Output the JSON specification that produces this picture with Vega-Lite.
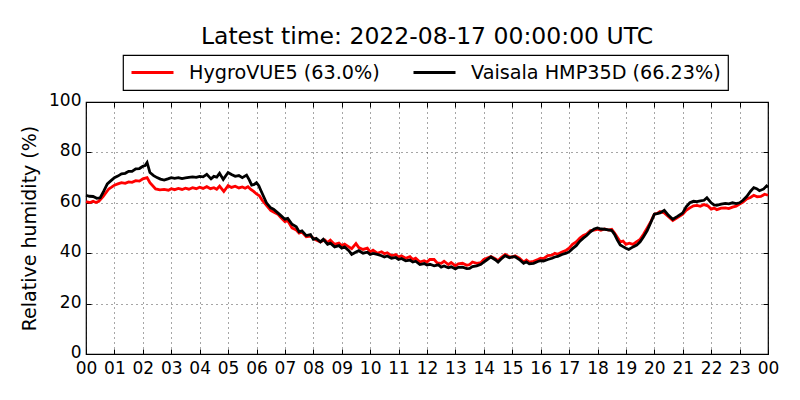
{
  "$schema": "https://vega.github.io/schema/vega-lite/v6.json",
  "width": 682,
  "height": 252,
  "autosize": {"type": "none"},
  "padding": {"left": 86, "top": 102, "right": 32, "bottom": 46},
  "title": {"text": "Latest time: 2022-08-17 00:00:00 UTC", "fontSize": 23.5, "font": "DejaVu Sans", "fontWeight": "normal", "color": "black", "frame": "group", "anchor": "middle", "offset": 6},
  "datasets": {
    "hygro": [
      {"hour": 0, "rh": 60.5}, {"hour": 0.15, "rh": 60.1}, {"hour": 0.25, "rh": 60.6}, {"hour": 0.35, "rh": 60.1}, {"hour": 0.45, "rh": 60.6}, {"hour": 0.6, "rh": 62.5},
      {"hour": 0.8, "rh": 65.5}, {"hour": 0.9, "rh": 66.2}, {"hour": 1, "rh": 67}, {"hour": 1.12, "rh": 67.5}, {"hour": 1.25, "rh": 68}, {"hour": 1.38, "rh": 67.7}, {"hour": 1.5, "rh": 68.3},
      {"hour": 1.62, "rh": 68.1}, {"hour": 1.75, "rh": 68.8}, {"hour": 1.88, "rh": 68.6}, {"hour": 2, "rh": 69.5}, {"hour": 2.15, "rh": 70}, {"hour": 2.25, "rh": 68},
      {"hour": 2.45, "rh": 65.5}, {"hour": 2.6, "rh": 65.1}, {"hour": 2.75, "rh": 65.3}, {"hour": 2.9, "rh": 65}, {"hour": 3, "rh": 65.6}, {"hour": 3.12, "rh": 65.2}, {"hour": 3.25, "rh": 65.7},
      {"hour": 3.38, "rh": 65.3}, {"hour": 3.5, "rh": 65.8}, {"hour": 3.62, "rh": 65.4}, {"hour": 3.75, "rh": 66}, {"hour": 3.88, "rh": 65.6}, {"hour": 4, "rh": 66.2}, {"hour": 4.12, "rh": 65.7}, {"hour": 4.25, "rh": 66.4},
      {"hour": 4.38, "rh": 65.6}, {"hour": 4.5, "rh": 66}, {"hour": 4.6, "rh": 65.4}, {"hour": 4.7, "rh": 66.6}, {"hour": 4.85, "rh": 64.5}, {"hour": 5, "rh": 66.8}, {"hour": 5.12, "rh": 66.1},
      {"hour": 5.25, "rh": 66.6}, {"hour": 5.38, "rh": 65.9}, {"hour": 5.5, "rh": 66.3}, {"hour": 5.6, "rh": 65.8}, {"hour": 5.7, "rh": 66.4}, {"hour": 5.8, "rh": 65.3}, {"hour": 5.9, "rh": 64.5},
      {"hour": 6, "rh": 63.5}, {"hour": 6.1, "rh": 62.8}, {"hour": 6.2, "rh": 61}, {"hour": 6.35, "rh": 59}, {"hour": 6.5, "rh": 57}, {"hour": 6.6, "rh": 56.3},
      {"hour": 6.75, "rh": 55.5}, {"hour": 6.85, "rh": 54.2}, {"hour": 7, "rh": 52.5}, {"hour": 7.1, "rh": 52.9}, {"hour": 7.25, "rh": 50}, {"hour": 7.4, "rh": 49.2}, {"hour": 7.5, "rh": 48}, {"hour": 7.6, "rh": 48.4},
      {"hour": 7.75, "rh": 46.5}, {"hour": 7.9, "rh": 46.8}, {"hour": 8, "rh": 46}, {"hour": 8.1, "rh": 45.2}, {"hour": 8.25, "rh": 44.5}, {"hour": 8.4, "rh": 45.3}, {"hour": 8.5, "rh": 44.2}, {"hour": 8.6, "rh": 45.2},
      {"hour": 8.75, "rh": 43.5}, {"hour": 8.9, "rh": 44}, {"hour": 9, "rh": 43}, {"hour": 9.1, "rh": 43.6}, {"hour": 9.25, "rh": 42.5}, {"hour": 9.35, "rh": 41.8}, {"hour": 9.5, "rh": 43.8}, {"hour": 9.6, "rh": 42.2},
      {"hour": 9.75, "rh": 41.5}, {"hour": 9.9, "rh": 42}, {"hour": 10, "rh": 40.5}, {"hour": 10.1, "rh": 41.2}, {"hour": 10.25, "rh": 40}, {"hour": 10.4, "rh": 40.6}, {"hour": 10.5, "rh": 39.8}, {"hour": 10.6, "rh": 40.2},
      {"hour": 10.75, "rh": 39}, {"hour": 10.9, "rh": 39.5}, {"hour": 11, "rh": 38.5}, {"hour": 11.1, "rh": 39}, {"hour": 11.25, "rh": 38}, {"hour": 11.4, "rh": 38.6}, {"hour": 11.5, "rh": 37.5}, {"hour": 11.6, "rh": 38},
      {"hour": 11.75, "rh": 36.5}, {"hour": 11.9, "rh": 37}, {"hour": 12, "rh": 36.5}, {"hour": 12.1, "rh": 37.5}, {"hour": 12.25, "rh": 37.5}, {"hour": 12.35, "rh": 36.2}, {"hour": 12.5, "rh": 36}, {"hour": 12.6, "rh": 36.8},
      {"hour": 12.75, "rh": 35.5}, {"hour": 12.85, "rh": 36.3}, {"hour": 13, "rh": 35}, {"hour": 13.1, "rh": 35.8}, {"hour": 13.25, "rh": 36}, {"hour": 13.4, "rh": 35.2}, {"hour": 13.5, "rh": 35.5}, {"hour": 13.6, "rh": 36.5},
      {"hour": 13.75, "rh": 36}, {"hour": 13.9, "rh": 36.3}, {"hour": 14, "rh": 37.5}, {"hour": 14.1, "rh": 38}, {"hour": 14.25, "rh": 38.7}, {"hour": 14.4, "rh": 37.8}, {"hour": 14.5, "rh": 37}, {"hour": 14.6, "rh": 38.2},
      {"hour": 14.75, "rh": 39.5}, {"hour": 14.9, "rh": 38.6}, {"hour": 15, "rh": 38.5}, {"hour": 15.1, "rh": 39}, {"hour": 15.25, "rh": 38}, {"hour": 15.4, "rh": 36.5}, {"hour": 15.5, "rh": 37.3}, {"hour": 15.6, "rh": 36.5},
      {"hour": 15.75, "rh": 36.8}, {"hour": 15.9, "rh": 37.5}, {"hour": 16, "rh": 38}, {"hour": 16.1, "rh": 37.8}, {"hour": 16.25, "rh": 39}, {"hour": 16.4, "rh": 39.2}, {"hour": 16.5, "rh": 40}, {"hour": 16.6, "rh": 39.6},
      {"hour": 16.75, "rh": 40.5}, {"hour": 16.9, "rh": 41.2}, {"hour": 17, "rh": 42}, {"hour": 17.12, "rh": 43.5}, {"hour": 17.25, "rh": 44.5}, {"hour": 17.38, "rh": 46}, {"hour": 17.5, "rh": 47},
      {"hour": 17.62, "rh": 47.6}, {"hour": 17.75, "rh": 49}, {"hour": 17.88, "rh": 49.2}, {"hour": 18, "rh": 49.5}, {"hour": 18.12, "rh": 49.1}, {"hour": 18.25, "rh": 49.6}, {"hour": 18.38, "rh": 49.2}, {"hour": 18.5, "rh": 49.5},
      {"hour": 18.6, "rh": 48}, {"hour": 18.8, "rh": 44.5}, {"hour": 18.9, "rh": 44.8}, {"hour": 19, "rh": 43.5}, {"hour": 19.12, "rh": 44}, {"hour": 19.25, "rh": 43.5}, {"hour": 19.38, "rh": 44.6},
      {"hour": 19.5, "rh": 45.5}, {"hour": 19.62, "rh": 47.5}, {"hour": 19.75, "rh": 50}, {"hour": 19.88, "rh": 52.6}, {"hour": 20, "rh": 55.5}, {"hour": 20.1, "rh": 55.8}, {"hour": 20.2, "rh": 56.5},
      {"hour": 20.35, "rh": 56}, {"hour": 20.5, "rh": 54.5}, {"hour": 20.65, "rh": 53}, {"hour": 20.8, "rh": 54},
      {"hour": 21, "rh": 55.5}, {"hour": 21.12, "rh": 57}, {"hour": 21.25, "rh": 58}, {"hour": 21.38, "rh": 58.8}, {"hour": 21.5, "rh": 59}, {"hour": 21.62, "rh": 58.6}, {"hour": 21.75, "rh": 59.3},
      {"hour": 21.88, "rh": 58.8}, {"hour": 22, "rh": 57.5}, {"hour": 22.1, "rh": 57.9}, {"hour": 22.2, "rh": 57.3}, {"hour": 22.35, "rh": 57.9}, {"hour": 22.5, "rh": 58}, {"hour": 22.62, "rh": 57.7}, {"hour": 22.75, "rh": 58.3},
      {"hour": 22.88, "rh": 58.7}, {"hour": 23, "rh": 59.5}, {"hour": 23.12, "rh": 60.3}, {"hour": 23.25, "rh": 61.5}, {"hour": 23.38, "rh": 62.1}, {"hour": 23.5, "rh": 63}, {"hour": 23.62, "rh": 62.4}, {"hour": 23.75, "rh": 62.5},
      {"hour": 23.88, "rh": 63.4}, {"hour": 24, "rh": 63}
    ],
    "vaisala": [
      {"hour": 0, "rh": 63}, {"hour": 0.12, "rh": 62.6}, {"hour": 0.25, "rh": 62.5}, {"hour": 0.38, "rh": 61.8}, {"hour": 0.5, "rh": 62}, {"hour": 0.62, "rh": 64.5}, {"hour": 0.75, "rh": 67.5},
      {"hour": 0.88, "rh": 68.8}, {"hour": 1, "rh": 70}, {"hour": 1.12, "rh": 70.6}, {"hour": 1.25, "rh": 71.5}, {"hour": 1.38, "rh": 71.7}, {"hour": 1.5, "rh": 72.5}, {"hour": 1.62, "rh": 72.5}, {"hour": 1.75, "rh": 73.5},
      {"hour": 1.88, "rh": 73.6}, {"hour": 2, "rh": 74.5}, {"hour": 2.08, "rh": 74.8}, {"hour": 2.15, "rh": 76}, {"hour": 2.25, "rh": 72}, {"hour": 2.38, "rh": 70.8}, {"hour": 2.5, "rh": 70},
      {"hour": 2.62, "rh": 69.4}, {"hour": 2.75, "rh": 69}, {"hour": 2.88, "rh": 69.5}, {"hour": 3, "rh": 70}, {"hour": 3.12, "rh": 69.7}, {"hour": 3.25, "rh": 70}, {"hour": 3.38, "rh": 69.6}, {"hour": 3.5, "rh": 69.9},
      {"hour": 3.62, "rh": 70.1}, {"hour": 3.75, "rh": 70.3}, {"hour": 3.88, "rh": 70.1}, {"hour": 4, "rh": 70.5}, {"hour": 4.12, "rh": 70.3}, {"hour": 4.25, "rh": 71.3}, {"hour": 4.4, "rh": 69.5},
      {"hour": 4.5, "rh": 70.5}, {"hour": 4.6, "rh": 70.2}, {"hour": 4.7, "rh": 71.7}, {"hour": 4.83, "rh": 69.3}, {"hour": 5, "rh": 72}, {"hour": 5.12, "rh": 71.2},
      {"hour": 5.25, "rh": 70.5}, {"hour": 5.38, "rh": 70.8}, {"hour": 5.5, "rh": 70}, {"hour": 5.65, "rh": 71}, {"hour": 5.75, "rh": 69}, {"hour": 5.83, "rh": 67},
      {"hour": 5.92, "rh": 67.3}, {"hour": 6, "rh": 68}, {"hour": 6.08, "rh": 66.8}, {"hour": 6.15, "rh": 65}, {"hour": 6.25, "rh": 62.5}, {"hour": 6.35, "rh": 60}, {"hour": 6.5, "rh": 58}, {"hour": 6.6, "rh": 57.5},
      {"hour": 6.75, "rh": 56}, {"hour": 6.85, "rh": 55}, {"hour": 7, "rh": 53.5}, {"hour": 7.1, "rh": 53.8}, {"hour": 7.25, "rh": 51.5}, {"hour": 7.4, "rh": 50.5}, {"hour": 7.5, "rh": 48.5}, {"hour": 7.6, "rh": 48.9},
      {"hour": 7.75, "rh": 47}, {"hour": 7.9, "rh": 47.4}, {"hour": 8, "rh": 45.5}, {"hour": 8.1, "rh": 45.9}, {"hour": 8.25, "rh": 44.5}, {"hour": 8.35, "rh": 45.5}, {"hour": 8.5, "rh": 43.5}, {"hour": 8.6, "rh": 44},
      {"hour": 8.75, "rh": 42.5}, {"hour": 8.9, "rh": 43}, {"hour": 9, "rh": 42}, {"hour": 9.1, "rh": 42.5}, {"hour": 9.25, "rh": 41}, {"hour": 9.35, "rh": 39.5}, {"hour": 9.5, "rh": 40.5}, {"hour": 9.6, "rh": 41},
      {"hour": 9.75, "rh": 40}, {"hour": 9.9, "rh": 40.4}, {"hour": 10, "rh": 39.5}, {"hour": 10.1, "rh": 39.9}, {"hour": 10.25, "rh": 39.5}, {"hour": 10.4, "rh": 39}, {"hour": 10.5, "rh": 38.5}, {"hour": 10.6, "rh": 38.9},
      {"hour": 10.75, "rh": 38}, {"hour": 10.9, "rh": 38.3}, {"hour": 11, "rh": 37.5}, {"hour": 11.1, "rh": 37.9}, {"hour": 11.25, "rh": 37}, {"hour": 11.4, "rh": 37.3}, {"hour": 11.5, "rh": 36.5}, {"hour": 11.6, "rh": 36.8},
      {"hour": 11.75, "rh": 35.5}, {"hour": 11.9, "rh": 35.9}, {"hour": 12, "rh": 35.3}, {"hour": 12.1, "rh": 35.6}, {"hour": 12.25, "rh": 35}, {"hour": 12.4, "rh": 35.4}, {"hour": 12.5, "rh": 34.5}, {"hour": 12.6, "rh": 34.9},
      {"hour": 12.75, "rh": 34.2}, {"hour": 12.85, "rh": 34.6}, {"hour": 13, "rh": 33.8}, {"hour": 13.1, "rh": 34.4}, {"hour": 13.25, "rh": 34.5}, {"hour": 13.4, "rh": 33.9}, {"hour": 13.5, "rh": 34}, {"hour": 13.6, "rh": 34.7},
      {"hour": 13.75, "rh": 35}, {"hour": 13.9, "rh": 35.6}, {"hour": 14, "rh": 36.5}, {"hour": 14.1, "rh": 37.3}, {"hour": 14.25, "rh": 38.5}, {"hour": 14.4, "rh": 37.4}, {"hour": 14.5, "rh": 36.5}, {"hour": 14.6, "rh": 37.6},
      {"hour": 14.75, "rh": 39}, {"hour": 14.9, "rh": 38.2}, {"hour": 15, "rh": 38.5}, {"hour": 15.1, "rh": 38.6}, {"hour": 15.25, "rh": 37.5}, {"hour": 15.4, "rh": 36}, {"hour": 15.5, "rh": 36.6}, {"hour": 15.6, "rh": 35.8},
      {"hour": 15.75, "rh": 36}, {"hour": 15.9, "rh": 36.7}, {"hour": 16, "rh": 37}, {"hour": 16.1, "rh": 36.9}, {"hour": 16.25, "rh": 37.5}, {"hour": 16.4, "rh": 38}, {"hour": 16.5, "rh": 38.5}, {"hour": 16.6, "rh": 38.7},
      {"hour": 16.75, "rh": 39.5}, {"hour": 16.9, "rh": 40}, {"hour": 17, "rh": 40.5}, {"hour": 17.12, "rh": 41.8}, {"hour": 17.25, "rh": 43}, {"hour": 17.38, "rh": 44.8}, {"hour": 17.5, "rh": 46},
      {"hour": 17.62, "rh": 47}, {"hour": 17.75, "rh": 48.5}, {"hour": 17.88, "rh": 49.6}, {"hour": 18, "rh": 50}, {"hour": 18.12, "rh": 49.6}, {"hour": 18.25, "rh": 49.5}, {"hour": 18.38, "rh": 49.3}, {"hour": 18.5, "rh": 49},
      {"hour": 18.6, "rh": 47.5}, {"hour": 18.7, "rh": 45.2}, {"hour": 18.8, "rh": 43.3}, {"hour": 18.9, "rh": 42.6}, {"hour": 19, "rh": 42}, {"hour": 19.1, "rh": 41.5},
      {"hour": 19.25, "rh": 42.5}, {"hour": 19.38, "rh": 43.2}, {"hour": 19.5, "rh": 44.5}, {"hour": 19.62, "rh": 46.5}, {"hour": 19.75, "rh": 49}, {"hour": 19.88, "rh": 52.3}, {"hour": 20, "rh": 55.5},
      {"hour": 20.1, "rh": 55.7}, {"hour": 20.2, "rh": 56}, {"hour": 20.35, "rh": 57}, {"hour": 20.5, "rh": 55}, {"hour": 20.65, "rh": 53.5},
      {"hour": 20.8, "rh": 54.5}, {"hour": 21, "rh": 56}, {"hour": 21.12, "rh": 58.4}, {"hour": 21.25, "rh": 60}, {"hour": 21.38, "rh": 60.6}, {"hour": 21.5, "rh": 60.5},
      {"hour": 21.62, "rh": 60.8}, {"hour": 21.75, "rh": 61}, {"hour": 21.85, "rh": 62}, {"hour": 22, "rh": 60}, {"hour": 22.1, "rh": 59.2}, {"hour": 22.2, "rh": 59}, {"hour": 22.35, "rh": 59.5},
      {"hour": 22.5, "rh": 59.8}, {"hour": 22.62, "rh": 59.6}, {"hour": 22.75, "rh": 60}, {"hour": 22.88, "rh": 59.7}, {"hour": 23, "rh": 60}, {"hour": 23.12, "rh": 61}, {"hour": 23.25, "rh": 62.5},
      {"hour": 23.38, "rh": 64.5}, {"hour": 23.5, "rh": 66}, {"hour": 23.6, "rh": 65.6}, {"hour": 23.7, "rh": 64.8}, {"hour": 23.85, "rh": 65.5}, {"hour": 23.95, "rh": 66.7},
      {"hour": 24, "rh": 66.2}
    ]
  },
  "layer": [
    {
      "data": {"name": "hygro"},
      "mark": {"type": "line", "strokeWidth": 2.8},
      "encoding": {
        "x": {"field": "hour", "type": "quantitative", "scale": {"domain": [0, 24], "nice": false, "zero": false},
              "axis": {"orient": "bottom", "values": [0,1,2,3,4,5,6,7,8,9,10,11,12,13,14,15,16,17,18,19,20,21,22,23,24],
                       "labelExpr": "(datum.value % 24 < 10 ? '0' : '') + (datum.value % 24)", "title": null, "labelFlush": false, "labelPadding": 11}},
        "y": {"field": "rh", "type": "quantitative", "scale": {"domain": [0, 100], "nice": false},
              "axis": {"orient": "left", "values": [0,20,40,60,80,100], "title": "Relative humidity (%)", "labelPadding": 10, "labelOffset": -1.5, "titlePadding": 9}},
        "color": {"datum": "HygroVUE5 (63.0%)", "type": "nominal",
                  "scale": {"domain": ["HygroVUE5 (63.0%)", "Vaisala HMP35D (66.23%)"], "range": ["#ff0000", "#000000"]},
                  "legend": {"title": null, "orient": "none", "legendX": 37, "legendY": -47, "direction": "horizontal", "columns": 2}}
      }
    },
    {
      "data": {"name": "vaisala"},
      "mark": {"type": "line", "strokeWidth": 2.8},
      "encoding": {
        "x": {"field": "hour", "type": "quantitative",
              "axis": {"orient": "top", "values": [0,1,2,3,4,5,6,7,8,9,10,11,12,13,14,15,16,17,18,19,20,21,22,23,24], "labels": false, "grid": false, "title": null}},
        "y": {"field": "rh", "type": "quantitative",
              "axis": {"orient": "right", "values": [0,20,40,60,80,100], "labels": false, "grid": false, "title": null}},
        "color": {"datum": "Vaisala HMP35D (66.23%)", "type": "nominal"}
      }
    }
  ],
  "resolve": {"axis": {"x": "independent", "y": "independent"}},
  "config": {
    "view": {"stroke": "black", "strokeWidth": 1.2},
    "axis": {
      "domain": false, "labelFont": "DejaVu Sans", "labelFontSize": 17, "labelColor": "black",
      "tickColor": "black", "tickSize": -5, "tickWidth": 1,
      "grid": true, "gridColor": "black", "gridDash": [1, 4], "gridWidth": 0.7, "gridOpacity": 1,
      "titleFont": "DejaVu Sans", "titleFontSize": 19, "titleFontWeight": "normal", "titleColor": "black"
    },
    "legend": {
      "symbolType": "stroke", "symbolSize": 1764, "symbolStrokeWidth": 3, "labelFont": "DejaVu Sans", "labelFontSize": 19.2,
      "labelColor": "black", "labelOffset": 14, "labelLimit": 400, "columnPadding": 32, "padding": 7, "clipHeight": 21,
      "strokeColor": "black", "fillColor": "white", "cornerRadius": 0, "strokeWidth": 1.2
    }
  }
}
